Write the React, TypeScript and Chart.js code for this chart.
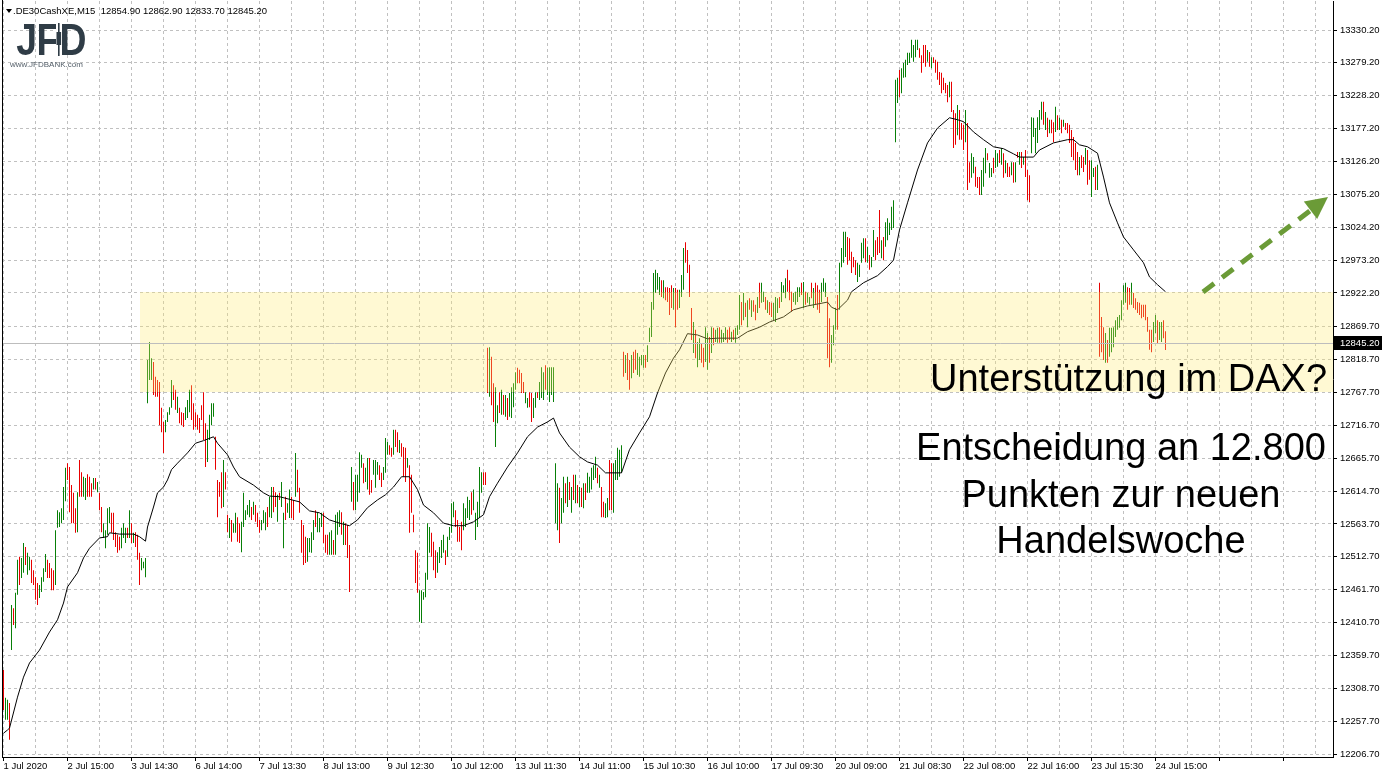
import { useEffect, useRef } from 'react';
import { Chart, registerables } from 'chart.js';

Chart.register(...registerables);

// ---------- header / last bar ----------
const symbolLabel = '.DE30CashXE,M15';
const lastOpen = 12854.9;
const lastHigh = 12862.9;
const lastLow = 12833.7;
const lastClose = 12845.2;

// ---------- axis labels ----------
const timeLabels = [
  '1 Jul 2020', '2 Jul 15:00', '3 Jul 14:30', '6 Jul 14:00', '7 Jul 13:30', '8 Jul 13:00',
  '9 Jul 12:30', '10 Jul 12:00', '13 Jul 11:30', '14 Jul 11:00', '15 Jul 10:30', '16 Jul 10:00',
  '17 Jul 09:30', '20 Jul 09:00', '21 Jul 08:30', '22 Jul 08:00', '22 Jul 16:00', '23 Jul 15:30',
  '24 Jul 15:00',
];
const priceTicks = [
  13330.2, 13279.2, 13228.2, 13177.2, 13126.2, 13075.2, 13024.2, 12973.2, 12922.2, 12869.7,
  12818.7, 12767.7, 12716.7, 12665.7, 12614.7, 12563.7, 12512.7, 12461.7, 12410.7, 12359.7,
  12308.7, 12257.7, 12206.7,
];

// ---------- price bars (M15, one entry per bar) ----------
const barHigh = [
  12337, 12294, 12291, 12286, 12438, 12433, 12457, 12508, 12513, 12511, 12534, 12528, 12519, 12513, 12508, 12492,
  12481, 12472, 12469, 12481, 12495, 12517, 12508, 12503, 12495, 12492, 12554, 12585, 12582, 12588, 12621, 12651,
  12658, 12652, 12624, 12612, 12588, 12613, 12663, 12644, 12637, 12635, 12641, 12637, 12627, 12635, 12635, 12629,
  12612, 12590, 12565, 12554, 12588, 12590, 12581, 12581, 12551, 12547, 12544, 12558, 12565, 12558, 12558, 12585,
  12565, 12550, 12551, 12547, 12519, 12511, 12505, 12511, 12818, 12846, 12821, 12815, 12792, 12787, 12784, 12744,
  12722, 12725, 12737, 12745, 12787, 12779, 12772, 12761, 12744, 12737, 12736, 12745, 12756, 12772, 12779, 12751,
  12737, 12733, 12728, 12748, 12768, 12720, 12710, 12733, 12751, 12751, 12699, 12632, 12629, 12644, 12663, 12644,
  12578, 12573, 12570, 12565, 12581, 12574, 12565, 12567, 12612, 12585, 12593, 12601, 12590, 12598, 12593, 12581,
  12570, 12570, 12585, 12582, 12590, 12606, 12621, 12621, 12613, 12609, 12612, 12629, 12581, 12606, 12596, 12617,
  12606, 12601, 12674, 12648, 12620, 12570, 12562, 12544, 12542, 12542, 12551, 12570, 12585, 12581, 12573, 12581,
  12581, 12547, 12547, 12551, 12554, 12539, 12578, 12582, 12585, 12582, 12567, 12565, 12562, 12531, 12652, 12629,
  12640, 12640, 12675, 12671, 12658, 12651, 12666, 12666, 12632, 12663, 12663, 12660, 12655, 12643, 12652, 12697,
  12691, 12686, 12682, 12710, 12710, 12706, 12694, 12689, 12683, 12682, 12666, 12655, 12640, 12578, 12523, 12519,
  12461, 12461, 12458, 12488, 12565, 12559, 12550, 12536, 12523, 12520, 12528, 12539, 12547, 12523, 12544, 12559,
  12596, 12598, 12585, 12570, 12559, 12567, 12596, 12588, 12606, 12601, 12613, 12617, 12581, 12598, 12652, 12644,
  12644, 12644, 12837, 12838, 12823, 12782, 12776, 12748, 12768, 12772, 12764, 12764, 12759, 12767, 12776, 12782,
  12799, 12806, 12803, 12798, 12784, 12768, 12759, 12768, 12767, 12759, 12768, 12768, 12784, 12807, 12799, 12810,
  12806, 12807, 12807, 12807, 12658, 12627, 12620, 12604, 12637, 12627, 12637, 12629, 12621, 12640, 12640, 12624,
  12621, 12620, 12627, 12627, 12643, 12637, 12651, 12655, 12668, 12651, 12640, 12621, 12598, 12596, 12604, 12663,
  12658, 12658, 12663, 12682, 12679, 12686, 12831, 12826, 12829, 12818, 12826, 12831, 12834, 12829, 12823, 12826,
  12826, 12826, 12841, 12868, 12908, 12953, 12958, 12953, 12947, 12942, 12942, 12931, 12931, 12930, 12934, 12930,
  12930, 12927, 12927, 12950, 12992, 13001, 12989, 12966, 12899, 12877, 12865, 12846, 12852, 12843, 12837, 12869,
  12860, 12854, 12869, 12868, 12865, 12868, 12869, 12865, 12860, 12869, 12865, 12869, 12862, 12865, 12868, 12872,
  12919, 12908, 12922, 12907, 12911, 12914, 12911, 12911, 12904, 12916, 12938, 12938, 12924, 12916, 12911, 12908,
  12907, 12907, 12916, 12914, 12916, 12939, 12934, 12945, 12958, 12942, 12924, 12922, 12924, 12931, 12931, 12938,
  12939, 12924, 12922, 12916, 12938, 12930, 12938, 12934, 12927, 12938, 12945, 12938, 12916, 12883, 12857, 12872,
  12899, 12919, 12969, 12992, 13017, 13017, 13009, 13007, 12986, 12978, 12973, 12969, 12966, 13000, 13007, 13007,
  12994, 12981, 12978, 13020, 13004, 13009, 13051, 13004, 13009, 13032, 13038, 13031, 13056, 13066, 13253, 13256,
  13268, 13271, 13279, 13284, 13295, 13295, 13315, 13307, 13315, 13315, 13302, 13291, 13307, 13307, 13299, 13296,
  13288, 13288, 13284, 13281, 13265, 13264, 13256, 13248, 13245, 13250, 13250, 13206, 13201, 13214, 13206, 13186,
  13183, 13206, 13186, 13125, 13139, 13133, 13118, 13102, 13102, 13113, 13132, 13147, 13139, 13124, 13116, 13132,
  13144, 13139, 13144, 13147, 13139, 13128, 13124, 13118, 13125, 13125, 13125, 13141, 13141, 13141, 13133, 13144,
  13113, 13105, 13195, 13194, 13178, 13195, 13206, 13219, 13219, 13203, 13194, 13191, 13191, 13187, 13211, 13198,
  13194, 13191, 13191, 13186, 13186, 13183, 13175, 13164, 13155, 13141, 13133, 13136, 13133, 13147, 13144, 13128,
  13128, 13116, 13118, 13121, 12938, 12885, 12869, 12860, 12849, 12868, 12868, 12869, 12880, 12885, 12888, 12911,
  12934, 12938, 12931, 12930, 12938, 12922, 12914, 12908, 12907, 12904, 12904, 12904, 12885, 12865, 12865, 12877,
  12888, 12880, 12877, 12877, 12880, 12862.9,
];
const barLow = [
  12275, 12260, 12260, 12229, 12368, 12407, 12402, 12454, 12469, 12480, 12488, 12500, 12485, 12492, 12472, 12469,
  12446, 12438, 12449, 12458, 12474, 12489, 12480, 12480, 12461, 12461, 12469, 12558, 12559, 12565, 12570, 12599,
  12632, 12582, 12565, 12565, 12550, 12551, 12606, 12606, 12606, 12601, 12606, 12606, 12606, 12617, 12617, 12613,
  12585, 12551, 12542, 12526, 12547, 12565, 12550, 12539, 12528, 12519, 12523, 12526, 12542, 12534, 12542, 12542,
  12534, 12534, 12528, 12508, 12469, 12492, 12495, 12481, 12751, 12787, 12787, 12764, 12761, 12761, 12717, 12706,
  12674, 12706, 12722, 12733, 12744, 12756, 12741, 12736, 12720, 12717, 12714, 12725, 12728, 12737, 12725, 12710,
  12714, 12710, 12705, 12725, 12694, 12652, 12660, 12694, 12717, 12730, 12648, 12574, 12606, 12588, 12590, 12617,
  12551, 12542, 12536, 12550, 12550, 12536, 12534, 12520, 12559, 12570, 12578, 12574, 12570, 12578, 12567, 12559,
  12550, 12554, 12565, 12554, 12559, 12574, 12573, 12582, 12590, 12567, 12601, 12590, 12526, 12570, 12581, 12573,
  12573, 12570, 12606, 12613, 12581, 12519, 12500, 12503, 12505, 12520, 12519, 12539, 12559, 12551, 12551, 12559,
  12534, 12519, 12516, 12516, 12516, 12516, 12516, 12547, 12559, 12547, 12531, 12531, 12511, 12458, 12598, 12585,
  12585, 12598, 12612, 12651, 12627, 12629, 12617, 12609, 12612, 12640, 12620, 12640, 12632, 12621, 12632, 12643,
  12671, 12671, 12668, 12671, 12683, 12675, 12674, 12668, 12637, 12629, 12651, 12550, 12581, 12551, 12472, 12457,
  12412, 12410, 12446, 12450, 12477, 12519, 12513, 12492, 12480, 12488, 12503, 12511, 12519, 12500, 12513, 12539,
  12550, 12574, 12559, 12536, 12536, 12523, 12554, 12559, 12573, 12570, 12578, 12585, 12539, 12559, 12574, 12612,
  12624, 12624, 12767, 12761, 12748, 12722, 12683, 12720, 12736, 12733, 12733, 12730, 12725, 12730, 12728, 12745,
  12772, 12782, 12782, 12767, 12767, 12751, 12744, 12745, 12722, 12728, 12744, 12759, 12756, 12759, 12756, 12772,
  12764, 12753, 12764, 12753, 12565, 12554, 12534, 12565, 12581, 12596, 12590, 12601, 12581, 12601, 12596, 12596,
  12590, 12590, 12588, 12601, 12612, 12612, 12617, 12632, 12635, 12627, 12620, 12574, 12574, 12573, 12574, 12585,
  12585, 12581, 12632, 12632, 12637, 12643, 12792, 12798, 12787, 12772, 12790, 12798, 12803, 12795, 12792, 12810,
  12806, 12806, 12815, 12846, 12854, 12896, 12922, 12927, 12919, 12916, 12914, 12911, 12908, 12888, 12899, 12896,
  12869, 12896, 12899, 12916, 12927, 12969, 12953, 12916, 12849, 12829, 12821, 12807, 12818, 12814, 12807, 12815,
  12803, 12814, 12829, 12841, 12846, 12845, 12845, 12845, 12846, 12849, 12845, 12849, 12846, 12849, 12845, 12857,
  12865, 12872, 12880, 12885, 12869, 12896, 12885, 12893, 12880, 12891, 12899, 12907, 12908, 12896, 12891, 12888,
  12885, 12880, 12877, 12891, 12899, 12908, 12922, 12914, 12924, 12911, 12893, 12908, 12904, 12908, 12916, 12919,
  12899, 12904, 12907, 12904, 12914, 12899, 12904, 12896, 12891, 12908, 12924, 12916, 12821, 12807, 12814, 12841,
  12865, 12865, 12896, 12962, 12969, 12978, 12966, 12973, 12953, 12962, 12950, 12939, 12947, 12969, 12976, 12970,
  12969, 12958, 12962, 12978, 12973, 12981, 12984, 12976, 12973, 12994, 13004, 13012, 13020, 13023, 13156, 13217,
  13226, 13232, 13256, 13257, 13276, 13279, 13287, 13281, 13288, 13299, 13287, 13264, 13279, 13273, 13281, 13273,
  13271, 13279, 13264, 13253, 13245, 13232, 13237, 13232, 13218, 13226, 13203, 13147, 13152, 13167, 13160, 13160,
  13144, 13156, 13082, 13093, 13101, 13108, 13087, 13085, 13074, 13074, 13087, 13108, 13128, 13101, 13102, 13108,
  13116, 13118, 13124, 13121, 13101, 13108, 13102, 13102, 13105, 13093, 13094, 13132, 13121, 13116, 13121, 13102,
  13066, 13063, 13139, 13164, 13139, 13155, 13175, 13191, 13183, 13175, 13164, 13170, 13170, 13156, 13172, 13175,
  13175, 13170, 13180, 13175, 13170, 13155, 13133, 13128, 13113, 13105, 13105, 13116, 13110, 13121, 13090, 13098,
  13071, 13102, 13082, 13082, 12823, 12830, 12818, 12814, 12814, 12823, 12830, 12838, 12854, 12865, 12868, 12880,
  12904, 12907, 12896, 12904, 12904, 12899, 12896, 12891, 12888, 12883, 12885, 12880, 12862, 12834, 12830, 12846,
  12860, 12843, 12849, 12846, 12852, 12833.7,
];
// 1 = bullish bar (close > open), 0 = bearish bar
const barUp = [
  0, 1, 1, 0, 1, 0, 1, 1, 0, 1, 1, 0, 1, 1, 0, 0,
  0, 0, 1, 1, 1, 1, 0, 0, 0, 0, 1, 1, 1, 1, 1, 1,
  0, 0, 0, 0, 0, 1, 0, 0, 1, 1, 0, 0, 0, 1, 0, 1,
  0, 0, 1, 1, 1, 1, 0, 0, 0, 0, 0, 1, 1, 1, 0, 1,
  0, 1, 0, 0, 0, 1, 1, 1, 1, 1, 1, 0, 0, 0, 0, 0,
  0, 1, 1, 1, 1, 0, 0, 1, 0, 0, 0, 1, 1, 1, 0, 0,
  0, 0, 0, 0, 0, 0, 1, 1, 1, 1, 0, 0, 0, 0, 1, 0,
  0, 1, 0, 1, 1, 0, 0, 1, 1, 1, 1, 1, 0, 1, 0, 0,
  0, 1, 1, 1, 0, 1, 1, 0, 0, 1, 0, 1, 1, 0, 1, 1,
  0, 0, 1, 0, 0, 0, 0, 0, 1, 1, 1, 1, 0, 1, 1, 1,
  0, 0, 0, 1, 1, 0, 1, 1, 1, 0, 1, 0, 0, 0, 1, 0,
  1, 1, 1, 1, 0, 1, 1, 0, 0, 1, 1, 1, 0, 0, 1, 1,
  1, 0, 0, 1, 0, 0, 1, 0, 0, 0, 1, 0, 0, 0, 0, 0,
  1, 1, 1, 1, 1, 1, 0, 0, 0, 1, 1, 1, 1, 0, 1, 1,
  1, 1, 0, 0, 0, 0, 1, 1, 1, 1, 0, 1, 1, 1, 1, 1,
  0, 0, 0, 1, 0, 0, 1, 1, 0, 1, 0, 1, 0, 1, 1, 1,
  1, 0, 0, 0, 0, 1, 1, 0, 0, 1, 1, 0, 1, 1, 1, 0,
  1, 1, 1, 1, 1, 1, 0, 1, 1, 0, 1, 0, 1, 0, 1, 0,
  1, 0, 1, 0, 1, 1, 1, 1, 1, 0, 1, 0, 0, 1, 1, 0,
  0, 1, 1, 1, 1, 1, 0, 1, 0, 0, 1, 0, 0, 1, 1, 1,
  1, 0, 1, 1, 1, 1, 1, 1, 1, 0, 1, 0, 0, 0, 0, 1,
  0, 0, 1, 1, 1, 0, 0, 0, 0, 1, 0, 1, 1, 0, 0, 1,
  1, 0, 1, 0, 1, 1, 0, 1, 1, 1, 0, 0, 1, 0, 1, 1,
  1, 0, 1, 0, 1, 0, 1, 0, 0, 1, 0, 1, 1, 0, 1, 0,
  0, 1, 1, 1, 0, 1, 1, 1, 0, 0, 0, 1, 1, 1, 1, 0,
  1, 0, 1, 1, 0, 1, 0, 0, 0, 1, 1, 1, 0, 0, 1, 1,
  1, 0, 1, 1, 1, 1, 0, 0, 0, 0, 0, 1, 1, 1, 1, 0,
  1, 0, 1, 1, 0, 0, 0, 1, 0, 1, 1, 1, 1, 1, 1, 1,
  0, 1, 1, 1, 1, 1, 1, 1, 1, 1, 0, 0, 0, 0, 1, 0,
  1, 0, 0, 0, 0, 0, 0, 0, 0, 1, 0, 0, 0, 1, 0, 0,
  0, 1, 0, 0, 1, 1, 0, 0, 0, 1, 1, 1, 0, 1, 1, 0,
  1, 1, 0, 1, 0, 1, 0, 0, 1, 0, 1, 0, 1, 0, 1, 0,
  0, 0, 1, 1, 1, 1, 1, 1, 0, 1, 0, 1, 0, 0, 1, 0,
  1, 0, 1, 0, 0, 0, 0, 0, 0, 0, 1, 0, 0, 1, 0, 0,
  1, 1, 0, 1, 0, 0, 0, 1, 0, 1, 1, 1, 1, 1, 1, 1,
  1, 1, 0, 0, 1, 0, 0, 0, 0, 0, 0, 0, 0, 0, 0, 1,
  1, 0, 1, 1, 0, 0,
];

// ---------- moving average (bar index / value) ----------
const maBar = [
  0, 2, 3, 7, 10, 13, 18, 23, 27, 30, 32, 37, 40, 43, 48, 52, 53, 58, 65, 68, 71, 72, 75, 77, 80,
  82, 84, 87, 92, 96, 100, 105, 107, 112, 115, 118, 125, 130, 133, 138, 143, 148, 153, 158, 163,
  168, 173, 177, 182, 187, 191, 195, 199, 203, 207, 210, 215, 220, 225, 230, 235, 240, 243, 247,
  252, 257, 262, 267, 272, 275, 278, 283, 288, 292, 297, 301, 307, 309, 313, 318, 323, 327, 331,
  335, 338, 342, 347, 352, 357, 362, 367, 372, 378, 383, 390, 395, 402, 407, 412, 414, 417, 422,
  424, 430, 437, 442, 445, 448, 452, 457, 462, 467, 473, 477, 480, 485, 490, 495, 500, 505, 508,
  515, 518, 525, 532, 535, 538, 542, 547, 550, 553, 557, 560, 565, 570, 573, 577, 581,
];
const maValue = [
  12239, 12244, 12247, 12295, 12326, 12348, 12368, 12396, 12415, 12441, 12466, 12488, 12511, 12526, 12542, 12544, 12550, 12548, 12548, 12544, 12537, 12559, 12590, 12612, 12621,
  12632, 12648, 12658, 12674, 12689, 12693, 12699, 12689, 12671, 12652, 12637, 12624, 12612, 12607, 12606, 12602, 12598, 12584, 12581, 12570,
  12565, 12561, 12570, 12589, 12601, 12609, 12621, 12637, 12637, 12617, 12593, 12581, 12565, 12561, 12561, 12567, 12578, 12606, 12627,
  12652, 12674, 12699, 12714, 12722, 12728, 12705, 12683, 12668, 12660, 12655, 12643, 12643, 12643, 12679, 12705, 12730, 12767, 12798,
  12821, 12834, 12859, 12857, 12851, 12852, 12852, 12852, 12862, 12869, 12877, 12885, 12896, 12902, 12905, 12908, 12900, 12896, 12911,
  12924, 12938, 12949, 12963, 12973, 13020, 13062, 13113, 13155, 13178, 13194, 13191, 13188, 13172, 13160, 13149, 13146, 13138, 13133,
  13133, 13144, 13155, 13160, 13160, 13152, 13149, 13139, 13102, 13062, 13031, 13009, 12989, 12969, 12947, 12935, 12924,
];

// ---------- annotations ----------
const zoneTop = 12923.5;
const zoneBottom = 12768.5;
const zoneFromBar = 68.25;
const arrowFrom = { bar: 599.75, price: 12923.7 };
const arrowTo = { bar: 662.25, price: 13071 };
const noteHeadline = 'Unterstützung im DAX?';
const noteBody = ['Entscheidung an 12.800', 'Punkten zur neuen', 'Handelswoche'];

// ---------- scale ranges / layout constants ----------
const X_MIN = -0.75;
const X_MAX = 664.75;
const Y_MIN = 12202.1;
const Y_MAX = 13375.2;
const GRID_EVERY = 16;
const LABEL_EVERY = 32;

const UI_FONT = "'Liberation Sans', Arial, sans-serif";
const UI_SIZE = 9.5;
const NOTE_FONT = "'Liberation Sans', Arial, Helvetica, sans-serif";
const UP_COLOR = '#087F08';
const DOWN_COLOR = '#E80000';
const GRID_COLOR = '#C0C0C0';

const fmt2 = (v: number) => v.toFixed(2);

const overlayPlugin = {
  id: 'mt4Overlay',
  afterDatasetsDraw(chart: any) {
    const { ctx, chartArea: a, scales } = chart;
    const x = scales.x;
    const y = scales.y;
    ctx.save();

    // support zone
    const zx = Math.round(x.getPixelForValue(zoneFromBar));
    const zy1 = Math.round(y.getPixelForValue(zoneTop));
    const zy2 = Math.round(y.getPixelForValue(zoneBottom));
    ctx.fillStyle = 'rgba(255, 236, 110, 0.30)';
    ctx.fillRect(zx, zy1, a.right - zx, zy2 - zy1);

    // current price line
    const py = Math.round(y.getPixelForValue(lastClose)) + 0.5;
    ctx.strokeStyle = '#BDBDBD';
    ctx.lineWidth = 1;
    ctx.beginPath();
    ctx.moveTo(a.left, py);
    ctx.lineTo(a.right, py);
    ctx.stroke();

    // dashed arrow
    const p0x = x.getPixelForValue(arrowFrom.bar);
    const p0y = y.getPixelForValue(arrowFrom.price);
    const p1x = x.getPixelForValue(arrowTo.bar);
    const p1y = y.getPixelForValue(arrowTo.price);
    const dx = p1x - p0x;
    const dy = p1y - p0y;
    const len = Math.hypot(dx, dy);
    const ux = dx / len;
    const uy = dy / len;
    const headLen = 22;
    const headHalf = 11;
    const bx = p1x - ux * headLen;
    const by = p1y - uy * headLen;
    ctx.strokeStyle = '#6B9B37';
    ctx.fillStyle = '#6B9B37';
    ctx.lineWidth = 5;
    ctx.lineCap = 'butt';
    ctx.setLineDash([14, 10]);
    ctx.beginPath();
    ctx.moveTo(p0x, p0y);
    ctx.lineTo(bx, by);
    ctx.stroke();
    ctx.setLineDash([]);
    ctx.beginPath();
    ctx.moveTo(p1x, p1y);
    ctx.lineTo(bx - uy * headHalf, by + ux * headHalf);
    ctx.lineTo(bx + uy * headHalf, by - ux * headHalf);
    ctx.closePath();
    ctx.fill();

    // notes
    ctx.fillStyle = '#000';
    ctx.font = `38px ${NOTE_FONT}`;
    ctx.textBaseline = 'alphabetic';
    ctx.textAlign = 'left';
    ctx.fillText(noteHeadline, 930, 391);
    ctx.textAlign = 'center';
    noteBody.forEach((t, i) => ctx.fillText(t, 1121, 460 + i * 46.5));

    // left frame line
    ctx.fillStyle = '#000';
    ctx.fillRect(a.left, 0, 1, a.bottom);
    ctx.restore();
  },
  afterDraw(chart: any) {
    const { ctx, chartArea: a, scales } = chart;
    const y = scales.y;
    ctx.save();

    // last price box on the price axis
    const py = Math.round(y.getPixelForValue(lastClose));
    ctx.fillStyle = '#000';
    ctx.fillRect(a.right + 1, py - 7, 48, 14);
    ctx.fillStyle = '#fff';
    ctx.font = `${UI_SIZE}px ${UI_FONT}`;
    ctx.textAlign = 'left';
    ctx.textBaseline = 'middle';
    ctx.fillText(fmt2(lastClose), a.right + 7, py + 0.5);

    // header line
    ctx.fillStyle = '#000';
    ctx.beginPath();
    ctx.moveTo(6, 9);
    ctx.lineTo(12, 9);
    ctx.lineTo(9, 13);
    ctx.closePath();
    ctx.fill();
    ctx.fillText(
      `${symbolLabel}  ${fmt2(lastOpen)} ${fmt2(lastHigh)} ${fmt2(lastLow)} ${fmt2(lastClose)}`,
      13,
      11.5,
    );

    // JFD logo
    ctx.fillStyle = '#2F3C46';
    ctx.font = `bold 44px ${NOTE_FONT}`;
    ctx.textBaseline = 'alphabetic';
    const letter = (t: string, lx: number) => {
      ctx.save();
      ctx.translate(lx, 55);
      ctx.scale(0.85, 1);
      ctx.fillText(t, 0, 0);
      ctx.restore();
    };
    letter('J', 16.3);
    letter('F', 36.5);
    letter('D', 59.5);
    ctx.fillStyle = '#ffffff';
    ctx.fillRect(56, 22, 6, 35);
    ctx.fillStyle = '#2F3C46';
    ctx.fillRect(58, 23, 1.6, 33);
    ctx.fillRect(56.5, 32, 4.6, 13);
    ctx.fillStyle = '#56616B';
    ctx.font = `8px ${NOTE_FONT}`;
    ctx.fillText('www.JFDBANK.com', 10, 67);
    ctx.restore();
  },
};

export default function App() {
  const canvasRef = useRef<HTMLCanvasElement | null>(null);

  useEffect(() => {
    document.body.style.margin = '0';
    document.body.style.background = '#fff';
    const canvas = canvasRef.current;
    if (!canvas) return;

    const barData = barHigh.map((h, i) => ({ x: i, y: [barLow[i], h] }));
    const barColors = barUp.map((u) => (u ? UP_COLOR : DOWN_COLOR));
    const maData = maBar.map((b, i) => ({ x: b, y: maValue[i] }));

    const chart = new Chart(canvas, {
      type: 'bar',
      data: {
        datasets: [
          {
            type: 'line',
            label: 'MA',
            data: maData as any,
            borderColor: '#000',
            borderWidth: 1,
            pointRadius: 0,
            tension: 0,
            fill: false,
          } as any,
          {
            type: 'bar',
            label: 'DE30',
            data: barData as any,
            backgroundColor: barColors,
            borderWidth: 0,
            barThickness: 1,
            inflateAmount: 0,
          } as any,
        ],
      },
      options: {
        animation: false,
        responsive: false,
        devicePixelRatio: 1,
        events: [],
        layout: { padding: { left: 2, top: 1, right: 0, bottom: 0 } },
        plugins: {
          legend: { display: false },
          tooltip: { enabled: false },
          title: { display: false },
        },
        scales: {
          x: {
            type: 'linear',
            min: X_MIN,
            max: X_MAX,
            offset: false,
            afterBuildTicks: (s: any) => {
              const t = [];
              for (let v = 0; v <= X_MAX; v += GRID_EVERY) t.push({ value: v });
              s.ticks = t;
            },
            afterFit: (s: any) => {
              s.height = 22;
              s.paddingLeft = 0;
              s.paddingRight = 0;
            },
            ticks: {
              autoSkip: false,
              maxRotation: 0,
              minRotation: 0,
              align: 'start',
              padding: 0,
              color: '#000',
              font: { family: UI_FONT, size: UI_SIZE },
              callback: (value: any) => {
                const v = Number(value);
                return v % LABEL_EVERY === 0 ? timeLabels[v / LABEL_EVERY] ?? '' : '';
              },
            },
            grid: {
              color: GRID_COLOR,
              lineWidth: 1,
              offset: false,
              drawTicks: true,
              tickLength: 4,
              tickBorderDash: [],
              tickColor: (c: any) => (c.tick && c.tick.value % LABEL_EVERY === 0 ? '#000' : 'rgba(0,0,0,0)'),
            },
            border: { display: true, color: '#000', width: 1, dash: [3, 3] },
          } as any,
          y: {
            type: 'linear',
            position: 'right',
            min: Y_MIN,
            max: Y_MAX,
            afterBuildTicks: (s: any) => {
              s.ticks = priceTicks.map((v) => ({ value: v }));
            },
            afterFit: (s: any) => {
              s.width = 51;
              s.paddingTop = 0;
              s.paddingBottom = 0;
            },
            ticks: {
              autoSkip: false,
              padding: 3,
              crossAlign: 'near',
              color: '#000',
              font: { family: UI_FONT, size: UI_SIZE },
              callback: (value: any) => fmt2(Number(value)),
            },
            grid: {
              color: GRID_COLOR,
              lineWidth: 1,
              drawTicks: true,
              tickLength: 4,
              tickColor: '#000',
              tickBorderDash: [],
            },
            border: { display: true, color: '#000', width: 1, dash: [3, 3] },
          } as any,
        },
      },
      plugins: [overlayPlugin as any],
    });

    return () => chart.destroy();
  }, []);

  return (
    <div style={{ width: 1384, height: 779, position: 'relative', background: '#fff' }}>
      <canvas ref={canvasRef} width={1384} height={779} style={{ display: 'block' }} />
    </div>
  );
}
